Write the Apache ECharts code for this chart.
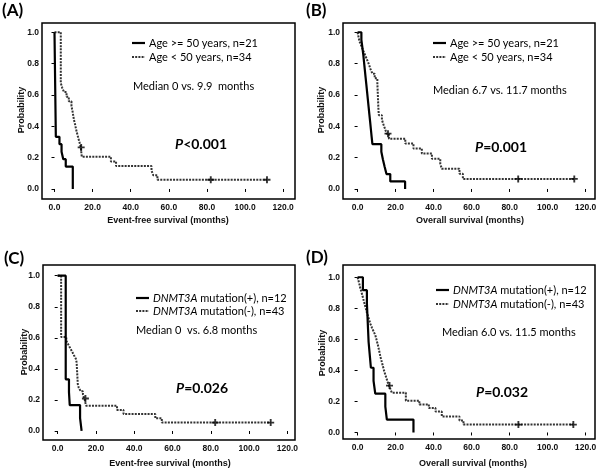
<!DOCTYPE html>
<html><head><meta charset="utf-8">
<script src="https://cdn.jsdelivr.net/npm/echarts@6/dist/echarts.min.js"></script>
<style>html,body{margin:0;padding:0;background:#fff}#c{width:600px;height:471px}</style>
</head><body><div id="c"></div><script>
// ---- data ----
const xTicks = [0, 20, 40, 60, 80, 100, 120];
const yTicks = [0, 0.2, 0.4, 0.6, 0.8, 1.0];

// (A) Event-free survival by age
const A_old = [[0,1],[0.7,0.333],[2.6,0.286],[3.7,0.238],[4.6,0.190],[5.9,0.143],[9.6,0]];
const A_young = [[0,1],[3.3,0.676],[4.0,0.647],[5.0,0.618],[6.3,0.588],[7.5,0.559],[8.9,0.529],[9.4,0.500],[9.8,0.471],[10.2,0.441],[10.8,0.412],[11.3,0.382],[11.9,0.353],[12.5,0.324],[13.2,0.294],[13.8,0.265],[14.3,0.206],[29.6,0.176],[32.3,0.147],[50.9,0.118],[51.8,0.088],[54.0,0.059],[111.5,0.059]];
const A_cens = [[14.0,0.265],[82.0,0.059],[111.5,0.059]];

// (B) Overall survival by age
const B_old = [[0,1],[2.0,0.952],[2.5,0.905],[3.0,0.857],[3.4,0.810],[3.8,0.762],[4.2,0.714],[4.6,0.667],[5.0,0.619],[5.4,0.571],[5.8,0.524],[6.2,0.476],[6.6,0.429],[7.0,0.381],[7.4,0.333],[7.8,0.286],[12.5,0.238],[13.3,0.190],[14.2,0.143],[15.2,0.095],[17.2,0.048],[25.0,0]];
const B_young = [[0,1],[1.0,0.941],[2.0,0.912],[3.0,0.882],[4.0,0.853],[5.0,0.824],[6.0,0.794],[6.8,0.765],[7.8,0.735],[9.0,0.706],[10.4,0.676],[10.5,0.647],[10.6,0.618],[10.7,0.588],[10.8,0.559],[10.9,0.529],[11.0,0.500],[11.2,0.471],[12.8,0.441],[13.6,0.412],[14.5,0.382],[15.3,0.353],[16.5,0.321],[25.1,0.290],[29.4,0.258],[33.8,0.226],[39.1,0.193],[43.5,0.161],[44.3,0.129],[53.6,0.097],[55.4,0.064],[114,0.064]];
const B_cens = [[16.0,0.353],[84.5,0.064],[114,0.064]];

// (C) Event-free survival by DNMT3A
const C_mut = [[0,1],[4.2,0.333],[5.9,0.25],[6.3,0.167],[11.7,0.083],[12.5,0]];
const C_wt = [[0,1],[1.8,0.605],[4.5,0.581],[5.5,0.558],[6.5,0.535],[7.5,0.512],[8.5,0.488],[9.5,0.465],[9.9,0.442],[10.0,0.419],[10.1,0.395],[10.2,0.372],[10.3,0.349],[10.4,0.326],[10.5,0.302],[11.0,0.279],[12.0,0.256],[13.2,0.233],[14.0,0.209],[14.8,0.163],[31.0,0.136],[34.4,0.109],[51.0,0.082],[54.4,0.054],[111.3,0.054]];
const C_cens = [[14.5,0.209],[82.3,0.054],[111.3,0.054]];

// (D) Overall survival by DNMT3A
const D_mut = [[0,1],[2.8,0.917],[4.9,0.833],[5.2,0.75],[5.5,0.667],[5.8,0.583],[6.4,0.5],[7.0,0.417],[8.4,0.333],[9.3,0.25],[14.6,0.167],[15.4,0.083],[29.4,0]];
const D_wt = [[0,1],[0.5,0.977],[1.0,0.953],[1.4,0.930],[2.0,0.907],[2.5,0.884],[3.0,0.860],[3.5,0.837],[4.0,0.814],[4.5,0.791],[5.0,0.767],[5.6,0.744],[6.2,0.721],[6.8,0.698],[7.6,0.674],[8.4,0.651],[9.3,0.628],[9.8,0.605],[10.3,0.581],[10.8,0.558],[11.2,0.535],[11.6,0.512],[12.0,0.488],[12.5,0.465],[13.0,0.442],[13.5,0.419],[14.0,0.395],[14.6,0.372],[15.2,0.349],[15.8,0.326],[16.5,0.302],[17.3,0.279],[18.0,0.256],[25.4,0.205],[32.5,0.180],[37.5,0.157],[41.0,0.135],[44.3,0.103],[53.6,0.077],[55.7,0.051],[113.5,0.051]];
const D_cens = [[16.8,0.302],[84.6,0.051],[113.5,0.051]];

const panelLabels = ['(A)', '(B)', '(C)', '(D)'];
const xTitles = ['Event-free survival (months)', 'Overall survival (months)', 'Event-free survival (months)', 'Overall survival (months)'];
const legend1 = ['Age >= 50 years, n=21', 'Age >= 50 years, n=21', '{i|DNMT3A} mutation(+), n=12', '{i|DNMT3A} mutation(+), n=12'];
const legend2 = ['Age < 50 years, n=34', 'Age < 50 years, n=34', '{i|DNMT3A} mutation(-), n=43', '{i|DNMT3A} mutation(-), n=43'];
const medians = ['Median 0 vs. 9.9  months', 'Median 6.7 vs. 11.7 months', 'Median 0  vs. 6.8 months', 'Median 6.0 vs. 11.5 months'];
const pvals = ['{i|P}<0.001', '{i|P}=0.001', '{i|P}=0.026', '{i|P}=0.032'];

const solidData = [A_old, B_old, C_mut, D_mut];
const dotData = [A_young, B_young, C_wt, D_wt];
const censData = [A_cens, B_cens, C_cens, D_cens];

// ---- layout ----
const L = [
  {grid:{left:42, top:23, width:253, height:176}, x:[-6.56,126.2], y:[-0.064,1.059],
   lab:[2,2], ytitle:[22,110], xtitle:[168,221], leg:[132,43,57], med:[133,86], p:[175,144]},
  {grid:{left:343, top:23, width:252, height:176}, x:[-7.67,124.9], y:[-0.064,1.059],
   lab:[306,2], ytitle:[322,110], xtitle:[470,221], leg:[433,43,57], med:[433,90], p:[475,147]},
  {grid:{left:43, top:265, width:252, height:175}, x:[-7.67,124.0], y:[-0.058,1.069],
   lab:[4,250], ytitle:[25,352], xtitle:[170,464], leg:[136,298,311], med:[136,330], p:[176,388]},
  {grid:{left:343, top:265, width:252, height:174}, x:[-7.67,124.9], y:[-0.042,1.079],
   lab:[306,249], ytitle:[323,353], xtitle:[473,464], leg:[436,290,304], med:[442,332], p:[476,392]}
];

const tickFont = {fontFamily:'Liberation Sans', fontSize:8.5, fontWeight:'bold', color:'#111'};
const plusPath = 'path://M2.2,0h1.6v2.2h2.2v1.6h-2.2v2.2h-1.6v-2.2h-2.2v-1.6h2.2z';

const grids = [], xAxes = [], yAxes = [], series = [], graphics = [];
L.forEach((p, i) => {
  grids.push(Object.assign({show:true, borderColor:'#000', borderWidth:1.5, backgroundColor:'#fff'}, p.grid));
  xAxes.push({type:'value', gridIndex:i, min:p.x[0], max:p.x[1],
    axisLine:{show:false}, splitLine:{show:false},
    axisTick:{show:true, inside:false, length:3, customValues:xTicks, lineStyle:{color:'#000'}},
    axisLabel:Object.assign({customValues:xTicks, margin:4, formatter:v=>v.toFixed(1)}, tickFont)});
  yAxes.push({type:'value', gridIndex:i, min:p.y[0], max:p.y[1],
    axisLine:{show:false}, splitLine:{show:false},
    axisTick:{show:true, inside:false, length:3, customValues:yTicks, lineStyle:{color:'#000'}},
    axisLabel:Object.assign({customValues:yTicks, margin:3, formatter:v=>v.toFixed(1)}, tickFont)});
  series.push({type:'line', xAxisIndex:i, yAxisIndex:i, data:dotData[i], step:'end', symbol:'none',
    lineStyle:{color:'#333', width:2, type:[2,1.2]}, z:2});
  series.push({type:'line', xAxisIndex:i, yAxisIndex:i, data:solidData[i], step:'end', symbol:'none',
    lineStyle:{color:'#000', width:2.2}, z:3});
  series.push({type:'scatter', xAxisIndex:i, yAxisIndex:i, data:censData[i], symbol:plusPath, symbolSize:7,
    itemStyle:{color:'#000'}, z:4});

  const txt = (x, y, text, font, extra) => graphics.push({type:'text', z:10, x:x, y:y,
    style:Object.assign({text:text, font:font, fill:'#000', textVerticalAlign:'middle', rich:{i:{fontStyle:'italic', font:'italic ' + font}}}, extra||{})});
  txt(p.lab[0], p.lab[1] + 9, panelLabels[i], 'bold 17px Lato');
  graphics.push({type:'text', z:10, x:p.ytitle[0], y:p.ytitle[1], rotation:Math.PI/2,
    style:{text:'Probability', font:'bold 9px "Liberation Sans"', fill:'#111', textAlign:'center', textVerticalAlign:'middle'}});
  txt(p.xtitle[0], p.xtitle[1], xTitles[i], 'bold 9px "Liberation Sans"', {textAlign:'center', fill:'#111'});
  // legend samples
  graphics.push({type:'line', z:10, shape:{x1:p.leg[0], y1:p.leg[1], x2:p.leg[0]+13, y2:p.leg[1]}, style:{stroke:'#000', lineWidth:2.2}});
  graphics.push({type:'line', z:10, shape:{x1:p.leg[0], y1:p.leg[2], x2:p.leg[0]+13, y2:p.leg[2]}, style:{stroke:'#333', lineWidth:2, lineDash:[2,1.2]}});
  txt(p.leg[0] + 17, p.leg[1], legend1[i], '11px Lato');
  txt(p.leg[0] + 17, p.leg[2], legend2[i], '11px Lato');
  txt(p.med[0], p.med[1], medians[i], '11px Lato');
  txt(p.p[0], p.p[1], pvals[i], 'bold 14px Lato');
});

const chart = echarts.init(document.getElementById('c'), null, {renderer:'canvas'});
chart.setOption({
  animation:false, backgroundColor:'#fff',
  grid:grids, xAxis:xAxes, yAxis:yAxes, series:series, graphic:graphics
});
</script></body></html>
